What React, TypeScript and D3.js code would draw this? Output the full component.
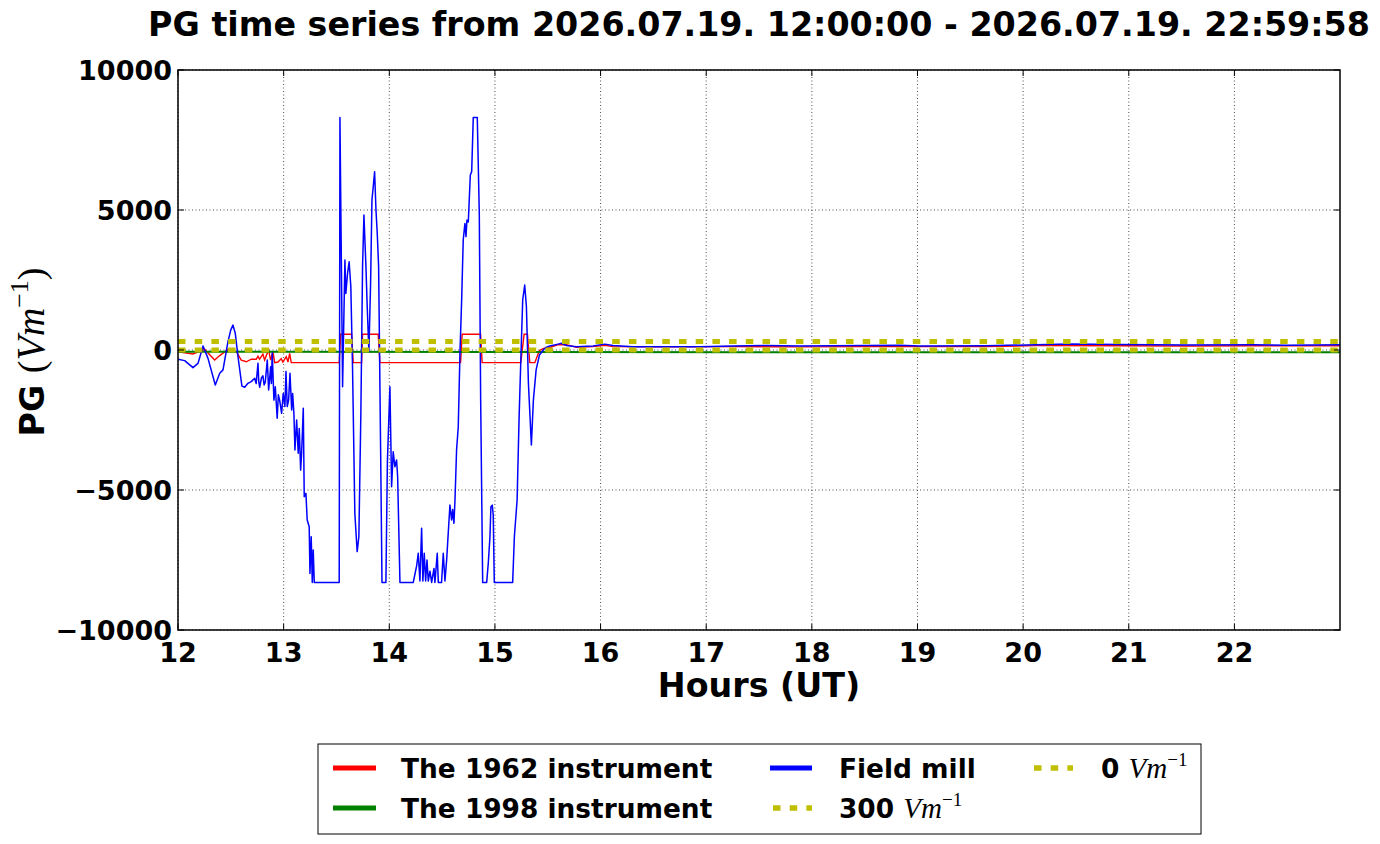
import React from 'react';
import * as d3 from 'd3';

// values
const hourTicks = [12, 13, 14, 15, 16, 17, 18, 19, 20, 21, 22];
const pgTicks = [10000, 5000, 0, -5000, -10000];
const referenceLevels = [300, 0];

const fieldMill: [number, number][] = [
  [12.0, -330], [12.063, -380], [12.142, -630], [12.189, -480], [12.237, 140],
  [12.284, -300], [12.353, -1250], [12.395, -830], [12.426, -710], [12.473, 300],
  [12.499, 710], [12.52, 890], [12.542, 600], [12.568, -240], [12.605, -1290],
  [12.631, -1330], [12.662, -1190], [12.693, -1130], [12.726, -1010], [12.74, -1200],
  [12.757, -475], [12.765, -1150], [12.773, -1330], [12.79, -1000], [12.804, -920],
  [12.815, -1250], [12.826, -1150], [12.845, -360], [12.858, -1430], [12.868, -1000],
  [12.877, -600], [12.884, -1200], [12.892, -110], [12.908, -1790], [12.921, -1310],
  [12.939, -2440], [12.95, -1600], [12.962, -1790], [12.981, -2260], [12.996, -1550],
  [13.012, -2020], [13.022, -770], [13.034, -2020], [13.047, -1790], [13.06, -830],
  [13.076, -2140], [13.085, -1550], [13.097, -2260], [13.107, -3570], [13.123, -2500],
  [13.138, -3690], [13.148, -2800], [13.161, -4290], [13.17, -3690], [13.186, -2080],
  [13.195, -5240], [13.211, -5120], [13.223, -6070], [13.242, -6310], [13.249, -7980],
  [13.261, -6670], [13.271, -8300], [13.28, -7140], [13.29, -8300], [13.526, -8300],
  [13.533, 8300], [13.558, -1310], [13.58, 3210], [13.589, 2020], [13.605, 2740],
  [13.62, 3150], [13.636, 2260], [13.652, -600], [13.674, -5830], [13.696, -7200],
  [13.712, -6670], [13.731, -2260], [13.747, 2980], [13.76, 4820], [13.779, 2980],
  [13.791, 1550], [13.807, -60], [13.823, 2380], [13.836, 5360], [13.848, 5830],
  [13.861, 6370], [13.874, 5000], [13.886, 4170], [13.899, 2980], [13.918, -3570],
  [13.931, -8300], [13.968, -8300], [13.982, -4000], [14.006, -1310], [14.022, -4880],
  [14.037, -3630], [14.053, -4170], [14.069, -3930], [14.079, -4520], [14.101, -8300],
  [14.227, -8300], [14.243, -8000], [14.259, -7710], [14.274, -7260], [14.29, -8250],
  [14.306, -6370], [14.318, -8250], [14.331, -7260], [14.344, -8250], [14.357, -7500],
  [14.369, -8250], [14.385, -7900], [14.401, -8300], [14.423, -7800], [14.432, -8300],
  [14.454, -7260], [14.464, -8300], [14.495, -8300], [14.511, -7260], [14.527, -8250],
  [14.543, -7500], [14.558, -6550], [14.574, -5540], [14.59, -6070], [14.6, -5700],
  [14.612, -6190], [14.622, -5360], [14.637, -3570], [14.653, -2740], [14.669, -120],
  [14.685, 1790], [14.7, 3930], [14.716, 4520], [14.726, 4050], [14.735, 4640],
  [14.748, 4570], [14.767, 6250], [14.78, 6370], [14.795, 8300], [14.833, 8300],
  [14.852, 4880], [14.865, -1790], [14.884, -8300], [14.922, -8300], [14.937, -7620],
  [14.953, -6670], [14.962, -5600], [14.975, -5540], [14.984, -5900], [14.994, -8300],
  [15.168, -8300], [15.184, -6670], [15.21, -5360], [15.229, -2380], [15.248, 0],
  [15.263, 1790], [15.282, 2320], [15.298, 1550], [15.317, -1190], [15.345, -3390],
  [15.364, -1790], [15.39, -710], [15.421, -180], [15.462, 20], [15.488, 100],
  [15.519, 140], [15.598, 210], [15.63, 240], [15.677, 160], [15.772, 120],
  [15.929, 140], [16.04, 210], [16.118, 160], [16.308, 120], [16.623, 120],
  [16.939, 120], [17.251, 140], [17.57, 160], [17.885, 140], [18.197, 150],
  [18.516, 160], [18.831, 170], [19.02, 140], [19.651, 150], [20.124, 190],
  [20.439, 210], [20.912, 200], [21.543, 180], [22.173, 190], [22.489, 170],
  [22.999, 190],
];

const inst1962: [number, number][] = [
  [12.0, -60], [12.142, -140], [12.253, 20], [12.347, -360], [12.395, -200],
  [12.473, 20], [12.552, -60], [12.599, -360], [12.647, -420], [12.694, -330],
  [12.741, -330], [12.757, -220], [12.772, -330], [12.804, -150], [12.82, -360],
  [12.836, -200], [12.858, 0], [12.877, -360], [12.899, -60], [12.915, -450],
  [12.946, -430], [12.977, -310], [12.993, -430], [13.025, -240], [13.041, -430],
  [13.057, -120], [13.072, -450], [13.526, -450], [13.54, 560], [13.643, 560],
  [13.659, -450], [13.738, -450], [13.747, 560], [13.895, 560], [13.911, -450],
  [14.675, -450], [14.69, 560], [14.864, 560], [14.879, -450], [15.245, -450],
  [15.276, 560], [15.308, 560], [15.33, -450], [15.378, -450], [15.421, -20],
  [15.462, 60], [15.519, 90], [15.598, 190], [15.677, 190], [15.772, 95],
  [15.929, 120], [16.04, 170], [16.118, 120], [16.623, 110], [17.251, 120],
  [17.885, 110], [18.516, 120], [19.02, 120], [19.651, 120], [20.124, 155],
  [20.912, 150], [21.543, 145], [22.173, 150], [22.999, 150],
];

const inst1998: [number, number][] = [
  [12.0, -60], [15.0, -70], [19.0, -80], [22.999, -80],
];

const left = 178, right = 1340, top = 70, bottom = 630;
const sans = 'DejaVu Sans';
const serif = 'Liberation Serif';
const yellow = '#bfbf00';

export default function App() {
  const x = d3.scaleLinear().domain([12, 22.9994]).range([left, right]);
  const y = d3.scaleLinear().domain([-10000, 10000]).range([bottom, top]);
  const line = d3.line<[number, number]>().x(d => x(d[0])).y(d => y(d[1]));
  const fmt = d3.format('d');

  const mathUnit = (size: number) => (
    <>
      <tspan fontFamily={serif} fontStyle="italic" fontWeight="normal" fontSize={size * 1.1}>Vm</tspan>
      <tspan fontFamily={serif} fontWeight="normal" fontSize={size * 0.72} dy={-size * 0.45}>−1</tspan>
    </>
  );

  return (
    <svg width={1380} height={844} style={{ position: 'fixed', left: 0, top: 0, background: '#fff' }}>
      <defs>
        <clipPath id="plot">
          <rect x={left} y={top} width={right - left} height={bottom - top} />
        </clipPath>
      </defs>
      <rect width={1380} height={844} fill="#fff" />

      <text x={(left + right) / 2} y={36} textAnchor="middle" fontFamily={sans} fontWeight="bold" fontSize={33.3}>
        PG time series from 2026.07.19. 12:00:00 - 2026.07.19. 22:59:58
      </text>

      {/* grid */}
      <g stroke="#000" strokeWidth={0.7} strokeDasharray="1 2.5">
        {hourTicks.map(h => (
          <line key={'gx' + h} x1={x(h)} x2={x(h)} y1={top} y2={bottom} />
        ))}
        {pgTicks.map(v => (
          <line key={'gy' + v} x1={left} x2={right} y1={y(v)} y2={y(v)} />
        ))}
      </g>

      <g clipPath="url(#plot)" fill="none">
        <path d={line(inst1962) || ''} stroke="#ff0000" strokeWidth={1.4} />
        <path d={line(inst1998) || ''} stroke="#008000" strokeWidth={2} />
        <path d={line(fieldMill) || ''} stroke="#0000ff" strokeWidth={1.5} strokeLinejoin="round" />
        {referenceLevels.map(v => (
          <line key={'ref' + v} x1={left} x2={right} y1={y(v)} y2={y(v)}
            stroke={yellow} strokeWidth={5} strokeDasharray="7.5 9.2" />
        ))}
      </g>

      {/* ticks */}
      <g stroke="#000" strokeWidth={1}>
        {hourTicks.map(h => (
          <g key={'tx' + h}>
            <line x1={x(h)} x2={x(h)} y1={bottom} y2={bottom - 6} />
            <line x1={x(h)} x2={x(h)} y1={top} y2={top + 6} />
          </g>
        ))}
        {pgTicks.map(v => (
          <g key={'ty' + v}>
            <line x1={left} x2={left + 6} y1={y(v)} y2={y(v)} />
            <line x1={right} x2={right - 6} y1={y(v)} y2={y(v)} />
          </g>
        ))}
      </g>
      <rect x={left} y={top} width={right - left} height={bottom - top} fill="none" stroke="#000" strokeWidth={1.5} />

      <g fontFamily={sans} fontWeight="bold" fontSize={27}>
        {hourTicks.map(h => (
          <text key={'lx' + h} x={x(h)} y={bottom + 32} textAnchor="middle">{fmt(h)}</text>
        ))}
        {pgTicks.map(v => (
          <text key={'ly' + v} x={left - 6} y={y(v) + 10} textAnchor="end">{fmt(v)}</text>
        ))}
      </g>

      <text x={(left + right) / 2} y={697} textAnchor="middle" fontFamily={sans} fontWeight="bold" fontSize={33.3}>
        Hours (UT)
      </text>

      <text transform="translate(44,352) rotate(-90)" textAnchor="middle" fontFamily={sans} fontWeight="bold" fontSize={33.3}>
        PG <tspan fontFamily={serif} fontWeight="normal" fontSize={38}>(</tspan>
        {mathUnit(36)}
        <tspan fontFamily={serif} fontWeight="normal" fontSize={38} dy={36 * 0.45}>)</tspan>
      </text>

      {/* legend */}
      <g>
        <rect x={318} y={744} width={883} height={90} fill="#fff" stroke="#000" strokeWidth={1} />
        <line x1={333} x2={376} y1={768} y2={768} stroke="#ff0000" strokeWidth={5} />
        <line x1={333} x2={376} y1={808} y2={808} stroke="#008000" strokeWidth={5} />
        <line x1={770} x2={812} y1={768} y2={768} stroke="#0000ff" strokeWidth={5} />
        <line x1={773} x2={812} y1={808} y2={808} stroke={yellow} strokeWidth={5.5} strokeDasharray="7.5 9.2" />
        <line x1={1034} x2={1073} y1={768} y2={768} stroke={yellow} strokeWidth={5.5} strokeDasharray="7.5 9.2" />
        <g fontFamily={sans} fontWeight="bold" fontSize={26.4}>
          <text x={401} y={778}>The 1962 instrument</text>
          <text x={401} y={818}>The 1998 instrument</text>
          <text x={839} y={778}>Field mill</text>
          <text x={839} y={818}>300 {mathUnit(26.4)}</text>
          <text x={1101} y={778}>0 {mathUnit(26.4)}</text>
        </g>
      </g>
    </svg>
  );
}
